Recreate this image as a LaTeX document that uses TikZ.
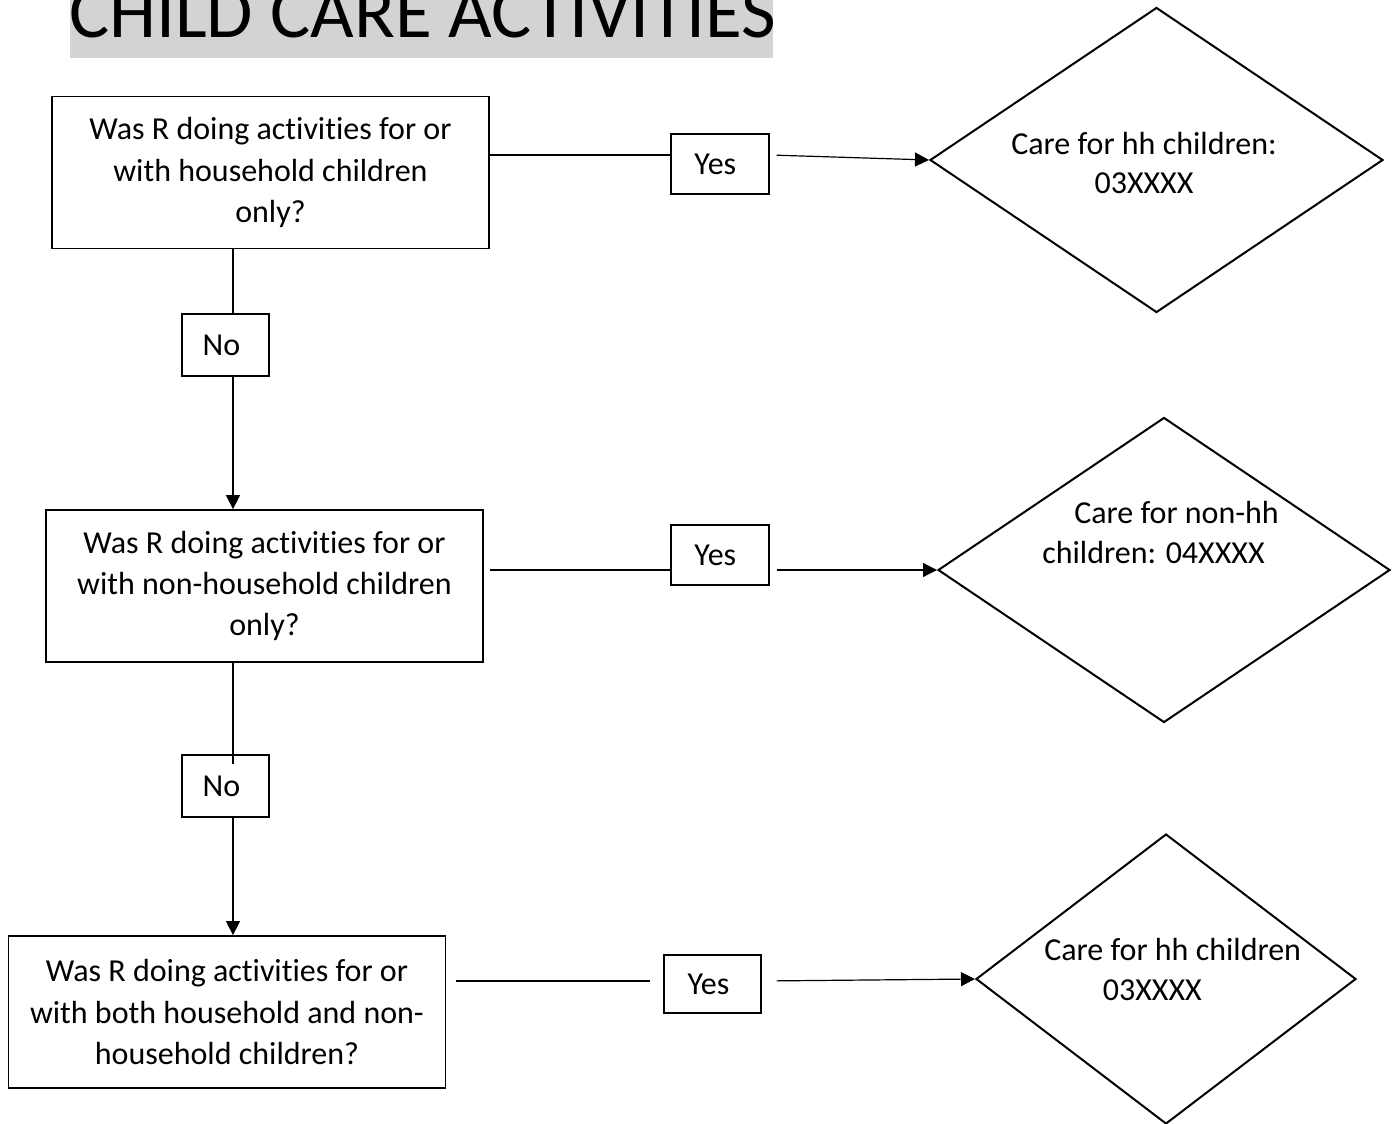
\documentclass[tikz,border=0pt]{standalone}
\usepackage{fontspec}
\setmainfont[Ligatures={TeX,NoCommon}]{Carlito}
\usetikzlibrary{shapes.geometric,arrows.meta}
\definecolor{titlegray}{RGB}{211,211,211}
\begin{document}
\begin{tikzpicture}[x=0.75pt,y=-0.75pt,
  qbox/.style={draw,line width=1.3pt,align=center,inner sep=0pt,font=\fontsize{24}{31}\selectfont,minimum width=437*0.75pt,minimum height=152*0.75pt},
  ans/.style={draw,line width=1.3pt,inner sep=0pt,font=\fontsize{24}{28}\selectfont},
  dia/.style={draw,diamond,line width=1.5pt,inner sep=0pt},
  conn/.style={line width=0.9pt},
  arr/.style={conn,-{Triangle[length=10.5pt,width=10.5pt]}},
  dtext/.style={font=\fontsize{24}{30}\selectfont,inner sep=0pt}
]
\useasboundingbox (0,0) rectangle (1397,1124);
\clip (0,0) rectangle (1397,1124);
% title
\fill[titlegray] (70,-30) rectangle (773,58);
\node[inner sep=0pt,anchor=base west,font=\fontsize{56.5}{60}\selectfont] (title) at (69,38) {CHILD CARE ACTIVITIES};
% question boxes
\node[qbox] (box1) at (270.5,172.5) {Was R doing activities for or\\with household children\\only?};
\node[qbox] (box2) at (264.5,586) {Was R doing activities for or\\with non-household children\\only?};
\node[qbox] (box3) at (227,1012) {Was R doing activities for or\\with both household and non-\\household children?};
% answer boxes
\node[ans,minimum width=98*0.75pt,minimum height=60*0.75pt] (yes1) at (720,164) {\hspace*{-7pt}Yes};
\node[ans,minimum width=98*0.75pt,minimum height=60*0.75pt] (yes2) at (720,555) {\hspace*{-7pt}Yes};
\node[ans,minimum width=97*0.75pt,minimum height=58*0.75pt] (yes3) at (712.5,984) {\hspace*{-6pt}Yes};
\node[ans,minimum width=87*0.75pt,minimum height=62*0.75pt] (no1) at (225.5,345) {\hspace*{-6pt}No};
\node[ans,minimum width=87*0.75pt,minimum height=62*0.75pt] (no2) at (225.5,786) {\hspace*{-6pt}No};
% diamonds
\node[dia,minimum width=453*0.75pt,minimum height=305*0.75pt] (d1) at (1156.5,160) {};
\node[dia,minimum width=452*0.75pt,minimum height=305*0.75pt] (d2) at (1164,570) {};
\node[dia,minimum width=380*0.75pt,minimum height=290*0.75pt] (d3) at (1166,979) {};
\node[dtext,align=center] (t1) at (1144,163) {Care for hh children:\\03XXXX};
\node[dtext,align=left,anchor=west] (t2) at (1042,533) {\hspace*{24pt}Care for non-hh\\children: 04XXXX};
\node[dtext,align=left,anchor=west] (t3) at (1044,969) {Care for hh children\\\hspace*{44pt}03XXXX};
% helper coordinates
\coordinate (vx) at (233,0);
\coordinate (r1) at (0,155);
\coordinate (r2) at (0,570);
\coordinate (r3) at (0,981);
% vertical connectors
\draw[conn] (box1.south -| vx) -- (no1.north -| vx);
\draw[arr] (no1.south -| vx) -- (box2.north -| vx);
\draw[conn] (box2.south -| vx) -- ([yshift=-7.5pt]no2.north -| vx);
\draw[arr] (no2.south -| vx) -- (box3.north -| vx);
% horizontal connectors
\draw[conn] (box1.east |- r1) -- (yes1.west |- r1);
\draw[arr,shorten <=5pt] (yes1.east |- r1) -- (d1.west);
\draw[conn,shorten <=4.5pt] (box2.east |- r2) -- (yes2.west |- r2);
\draw[arr,shorten <=5pt] (yes2.east |- r2) -- (d2.west);
\draw[conn,shorten <=7.5pt,shorten >=9.5pt] (box3.east |- r3) -- (yes3.west |- r3);
\draw[arr,shorten <=11pt] (yes3.east |- r3) -- (d3.west);
\end{tikzpicture}
\end{document}
